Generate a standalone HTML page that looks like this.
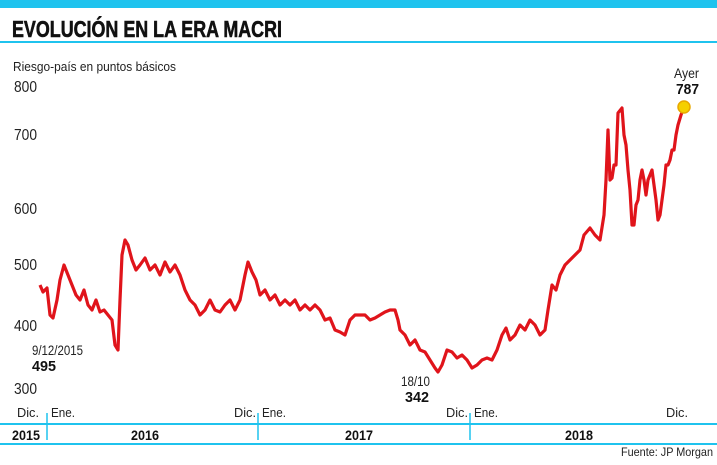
<!DOCTYPE html>
<html><head><meta charset="utf-8"><style>
body{margin:0;background:#fff;width:717px;height:460px;overflow:hidden;font-family:"Liberation Sans",sans-serif;}
</style></head><body>
<svg width="717" height="460" xmlns="http://www.w3.org/2000/svg" font-family="Liberation Sans, sans-serif">
<rect x="0" y="0" width="717" height="8" fill="#1fc3ee"/>
<text x="12" y="37" font-size="23" font-weight="bold" fill="#111" stroke="#111" stroke-width="0.6" textLength="270" lengthAdjust="spacingAndGlyphs">EVOLUCIÓN EN LA ERA MACRI</text>
<rect x="0" y="41" width="717" height="2" fill="#1fc3ee"/>
<text x="13" y="71" font-size="13" fill="#222" textLength="163" lengthAdjust="spacingAndGlyphs">Riesgo-país en puntos básicos</text>
<g font-size="16" fill="#222">
<text x="14" y="92" textLength="23" lengthAdjust="spacingAndGlyphs">800</text><text x="14" y="140" textLength="23" lengthAdjust="spacingAndGlyphs">700</text><text x="14" y="214" textLength="23" lengthAdjust="spacingAndGlyphs">600</text>
<text x="14" y="270" textLength="23" lengthAdjust="spacingAndGlyphs">500</text><text x="14" y="331" textLength="23" lengthAdjust="spacingAndGlyphs">400</text><text x="14" y="394" textLength="23" lengthAdjust="spacingAndGlyphs">300</text>
</g>
<text x="32" y="355" font-size="13.5" fill="#222" textLength="51" lengthAdjust="spacingAndGlyphs">9/12/2015</text>
<text x="32" y="371" font-size="15" font-weight="bold" fill="#111" textLength="24" lengthAdjust="spacingAndGlyphs">495</text>
<text x="401" y="386" font-size="13.5" fill="#222" textLength="29" lengthAdjust="spacingAndGlyphs">18/10</text>
<text x="405" y="402" font-size="15" font-weight="bold" fill="#111" textLength="24" lengthAdjust="spacingAndGlyphs">342</text>
<text x="674" y="78" font-size="14" fill="#222" textLength="25" lengthAdjust="spacingAndGlyphs">Ayer</text>
<text x="676" y="94" font-size="15" font-weight="bold" fill="#111" textLength="23" lengthAdjust="spacingAndGlyphs">787</text>
<polyline fill="none" stroke="#e0141b" stroke-width="3.2" stroke-linejoin="round" points="40,285 43,292 47,288 50,315 53,318 57,300 60,280 64,265 68,275 72,285 76,295 80,300 84,290 88,305 92,310 96,300 100,312 104,310 108,315 112,320 115,345 118,350 120,300 122,255 125,240 128,245 132,260 136,270 140,265 145,258 150,270 155,265 160,275 165,262 170,272 175,265 180,275 185,290 190,300 195,305 200,315 205,310 210,300 215,310 220,312 225,305 230,300 235,310 240,300 245,275 248,262 252,272 256,280 260,295 265,290 270,300 275,295 280,305 285,300 290,305 295,300 300,310 305,305 310,310 315,305 320,310 325,320 330,318 335,330 340,332 345,335 350,320 355,315 360,315 365,315 370,320 375,318 380,315 385,312 390,310 395,310 398,320 400,330 405,335 410,345 415,340 420,350 425,352 430,360 435,368 438,372 442,365 447,350 452,352 457,358 462,355 467,360 472,368 477,365 482,360 487,358 492,360 497,350 502,335 506,328 510,340 515,335 520,325 525,330 530,320 535,325 540,335 545,330 548,310 552,285 556,290 560,275 565,265 570,260 575,255 580,250 584,235 590,228 595,235 600,240 604,215 606,180 608,130 610,180 612,178 614,165 616,165 618,113 622,108 624,135 626,145 628,170 630,190 632,225 634,225 636,205 638,200 640,180 642,170 644,180 646,195 648,180 650,175 652,170 654,185 656,200 658,220 660,215 662,200 664,185 666,165 668,165 670,160 672,150 674,150 676,135 678,125 681,115 684,107"/>
<circle cx="684" cy="107" r="6" fill="#f5d000" stroke="#e8a800" stroke-width="1.5"/>
<g font-size="13" fill="#222">
<text x="17" y="417" textLength="22" lengthAdjust="spacingAndGlyphs">Dic.</text><text x="51" y="417" textLength="24" lengthAdjust="spacingAndGlyphs">Ene.</text>
<text x="234" y="417" textLength="22" lengthAdjust="spacingAndGlyphs">Dic.</text><text x="262" y="417" textLength="24" lengthAdjust="spacingAndGlyphs">Ene.</text>
<text x="446" y="417" textLength="22" lengthAdjust="spacingAndGlyphs">Dic.</text><text x="474" y="417" textLength="24" lengthAdjust="spacingAndGlyphs">Ene.</text>
<text x="666" y="417" textLength="22" lengthAdjust="spacingAndGlyphs">Dic.</text>
</g>
<rect x="0" y="423" width="717" height="2" fill="#1fc3ee"/>
<rect x="0" y="443" width="717" height="2" fill="#1fc3ee"/>
<g stroke="#1fc3ee" stroke-width="1.5"><line x1="47" y1="413" x2="47" y2="440"/><line x1="258" y1="413" x2="258" y2="440"/><line x1="470" y1="413" x2="470" y2="440"/></g>
<g font-size="14" font-weight="bold" fill="#111">
<text x="12" y="440" textLength="28" lengthAdjust="spacingAndGlyphs">2015</text><text x="131" y="440" textLength="28" lengthAdjust="spacingAndGlyphs">2016</text><text x="345" y="440" textLength="28" lengthAdjust="spacingAndGlyphs">2017</text><text x="565" y="440" textLength="28" lengthAdjust="spacingAndGlyphs">2018</text>
</g>
<text x="621" y="456" font-size="12" fill="#222" textLength="92" lengthAdjust="spacingAndGlyphs">Fuente: JP Morgan</text>
</svg>
</body></html>
